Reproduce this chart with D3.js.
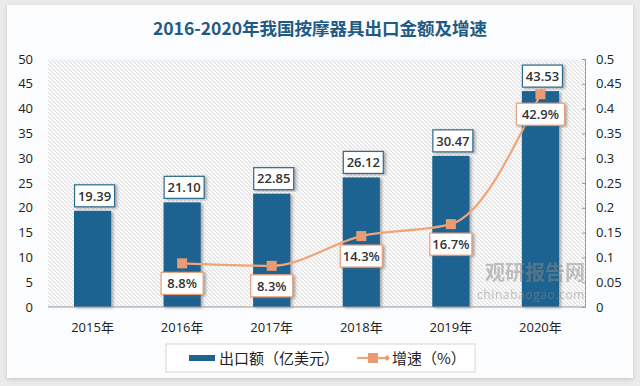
<!DOCTYPE html>
<html><head><meta charset="utf-8">
<script src="https://cdn.jsdelivr.net/npm/d3@7/dist/d3.min.js"></script>
<style>
html,body{margin:0;padding:0;background:#ebebeb;}
svg{display:block;}
</style></head>
<body>
<svg id="c" width="640" height="386"></svg>
<script>
const years = ["2015年","2016年","2017年","2018年","2019年","2020年"];
const exportValues = [19.39, 21.10, 22.85, 26.12, 30.47, 43.53];
const growthYears = ["2016年","2017年","2018年","2019年","2020年"];
const growthValues = [0.088, 0.083, 0.143, 0.167, 0.429];
const growthLabels = ["8.8%","8.3%","14.3%","16.7%","42.9%"];
const leftTicks = [0,5,10,15,20,25,30,35,40,45,50];
const rightTicks = [0,0.05,0.1,0.15,0.2,0.25,0.3,0.35,0.4,0.45,0.5];
const title = "2016-2020年我国按摩器具出口金额及增速";
const legendBar = "出口额（亿美元）";
const legendLine = "增速（%）";

const svg = d3.select("#c");
const font = "'Open Sans','Noto Sans CJK SC',sans-serif";
const cjk = "'Noto Sans CJK SC',sans-serif";

// card
const defs = svg.append("defs");
const f = defs.append("filter").attr("id","sh").attr("x","-5%").attr("y","-5%").attr("width","110%").attr("height","110%");
f.append("feDropShadow").attr("dx",0).attr("dy",1).attr("stdDeviation",2).attr("flood-color","#999").attr("flood-opacity",0.5);
svg.append("rect").attr("x",7).attr("y",5).attr("width",626).attr("height",373).attr("fill","#fafcfd").attr("filter","url(#sh)");

// hatch pattern
const pat = defs.append("pattern").attr("id","hatch").attr("patternUnits","userSpaceOnUse")
  .attr("width",4).attr("height",4);
pat.append("rect").attr("width",4).attr("height",4).attr("fill","#fbfbfb");
pat.append("path").attr("d","M-1,1 L1,-1 M0,0 L4,4 M3,5 L5,3").attr("stroke","#e0e0e0").attr("stroke-width",1.1);
const bshadow = defs.append("filter").attr("id","bs").attr("x","-20%").attr("y","-10%").attr("width","140%").attr("height","120%");
bshadow.append("feDropShadow").attr("dx",2).attr("dy",1).attr("stdDeviation",1.5).attr("flood-color","#666").attr("flood-opacity",0.55);

const pLeft = 48, pRight = 585, pTop = 59, pBottom = 307;
const x = d3.scaleBand().domain(years).range([pLeft,pRight]).paddingInner(0.585).paddingOuter(0.29);
const yL = d3.scaleLinear().domain([0,50]).range([pBottom,pTop]);
const yR = d3.scaleLinear().domain([0,0.5]).range([pBottom,pTop]);

svg.append("rect").attr("x",pLeft).attr("y",pTop).attr("width",pRight-pLeft).attr("height",pBottom-pTop).attr("fill","url(#hatch)");

// title
svg.append("text").attr("x",320).attr("y",35).attr("text-anchor","middle")
  .attr("font-family","'Noto Sans CJK SC',serif").attr("font-weight","bold").attr("font-size",17.5)
  .attr("fill","#1f5a85").text(title);

// left axis
const la = svg.append("g").attr("transform",`translate(${pLeft},0)`)
  .call(d3.axisLeft(yL).tickValues(leftTicks).tickSize(0).tickPadding(15).tickFormat(d3.format("d")));
la.select(".domain").remove();
la.selectAll("text").attr("font-family",font).attr("font-size",13).attr("fill","#222");

// right axis
const ra = svg.append("g").attr("transform",`translate(${pRight},0)`)
  .call(d3.axisRight(yR).tickValues(rightTicks).tickSizeInner(-3).tickSizeOuter(-3).tickPadding(11).tickFormat(d=>d===0?"0":String(+d.toFixed(2))));
ra.select(".domain").attr("stroke","#999");
ra.selectAll("line").attr("stroke","#999");
ra.selectAll("text").attr("font-family",font).attr("font-size",13).attr("fill","#222");

// bars
svg.append("g").selectAll("rect").data(years).join("rect")
  .attr("x",d=>x(d)).attr("width",x.bandwidth())
  .attr("y",(d,i)=>yL(exportValues[i])).attr("height",(d,i)=>pBottom-yL(exportValues[i]))
  .attr("fill","#1b6491").attr("filter","url(#bs)");

// baseline
svg.append("line").attr("x1",pLeft).attr("x2",pRight).attr("y1",pBottom).attr("y2",pBottom).attr("stroke","#999").attr("stroke-width",1);

// x labels
svg.append("g").selectAll("text").data(years).join("text")
  .attr("x",d=>x(d)+x.bandwidth()/2).attr("y",pBottom+25).attr("text-anchor","middle")
  .attr("font-family",font).attr("font-size",13).attr("fill","#222").text(d=>d);

// bar labels
const bl = svg.append("g").selectAll("g").data(years).join("g")
  .attr("transform",(d,i)=>`translate(${x(d)+x.bandwidth()/2+2},${yL(exportValues[i])-15})`);
bl.append("rect").attr("x",-20).attr("y",-11).attr("width",40).attr("height",22)
  .attr("fill","#fff").attr("stroke","#2e6a8e").attr("stroke-width",1.2).attr("filter","url(#bs)");
bl.append("text").attr("text-anchor","middle").attr("dy","0.36em")
  .attr("font-family",font).attr("font-weight","600").attr("font-size",13).attr("fill","#333")
  .text((d,i)=>exportValues[i].toFixed(2));

// line
const cx = d=>x(d)+x.bandwidth()/2;
const line = d3.line().x(d=>cx(d)).y((d,i)=>yR(growthValues[i])).curve(d3.curveMonotoneX);
svg.append("path").datum(growthYears).attr("d",line).attr("fill","none")
  .attr("stroke","#f0a479").attr("stroke-width",2.2);
svg.append("g").selectAll("rect").data(growthYears).join("rect")
  .attr("x",d=>cx(d)-5).attr("y",(d,i)=>yR(growthValues[i])-5).attr("width",10).attr("height",10)
  .attr("fill","#eb9b73");

// line labels
const gl = svg.append("g").selectAll("g").data(growthYears).join("g")
  .attr("transform",(d,i)=>`translate(${cx(d)},${yR(growthValues[i])+20})`);
gl.append("rect").attr("x",d=>d==="2020年"?-24:-21).attr("y",-11).attr("width",d=>d==="2020年"?48:42).attr("height",22)
  .attr("fill","#fff").attr("stroke","#e9a17c").attr("stroke-width",1.2).attr("filter","url(#bs)");
gl.append("text").attr("text-anchor","middle").attr("dy","0.36em")
  .attr("font-family",font).attr("font-weight","600").attr("font-size",13).attr("fill","#333")
  .text((d,i)=>growthLabels[i]);

// watermark
const wm = svg.append("g").attr("opacity",0.5);
wm.append("text").attr("x",585).attr("y",280).attr("text-anchor","end").attr("font-family",cjk)
  .attr("font-weight","bold").attr("font-size",20).attr("fill","#8a8a8a").text("观研报告网");
wm.append("text").attr("x",585).attr("y",299).attr("text-anchor","end").attr("font-family",font)
  .attr("font-size",12).attr("fill","#8a8a8a").attr("letter-spacing",0.6).text("chinabaogao.com");

// legend
const lg = svg.append("g");
lg.append("rect").attr("x",166).attr("y",344).attr("width",309).attr("height",28).attr("fill","#fff").attr("stroke","#d6d6d6");
lg.append("rect").attr("x",189).attr("y",355).attr("width",26).attr("height",6).attr("fill","#1b6491");
lg.append("text").attr("x",219).attr("y",364).attr("font-family",cjk).attr("font-size",15).attr("fill","#222").text(legendBar);
lg.append("line").attr("x1",357).attr("x2",387).attr("y1",358).attr("y2",358).attr("stroke","#f0a479").attr("stroke-width",2.2);
lg.append("rect").attr("x",368).attr("y",353).attr("width",10).attr("height",10).attr("fill","#eb9b73");
lg.append("path").attr("d","M384,358 L387,355 L390,358 L387,361 Z").attr("fill","#eb9b73");
lg.append("text").attr("x",392).attr("y",364).attr("font-family",cjk).attr("font-size",15).attr("fill","#222").text(legendLine);
</script>
</body></html>
